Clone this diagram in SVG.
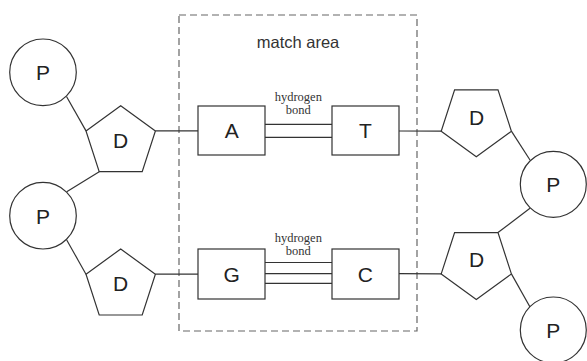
<svg xmlns="http://www.w3.org/2000/svg" width="587" height="361" viewBox="0 0 587 361">
  <style>
    .shape { fill: #ffffff; stroke: #333333; stroke-width: 1.2; }
    .wire { fill: none; stroke: #333333; stroke-width: 1.2; }
    .label { font-family: "Liberation Sans", Arial, sans-serif; font-size: 21px; fill: #222222; text-anchor: middle; }
    .title { font-family: "Liberation Sans", Arial, sans-serif; font-size: 16.5px; fill: #333333; text-anchor: middle; }
    .note { font-family: "Liberation Serif", "Times New Roman", serif; font-size: 12.5px; fill: #333333; text-anchor: middle; }
    .area { fill: none; stroke: #666666; stroke-width: 1.2; stroke-dasharray: 7 4; }
  </style>

  <rect width="587" height="361" fill="#ffffff"/>

  <!-- match area frame -->
  <g id="match-area">
    <rect class="area" x="179" y="15" width="238" height="316"/>
    <text class="title" x="298" y="48">match area</text>
  </g>

  <!-- connectors -->
  <g id="connectors">
    <line class="wire" x1="66.5" y1="96.5" x2="86" y2="130.9"/>
    <line class="wire" x1="99.2" y1="171.7" x2="66.7" y2="191.7"/>
    <line class="wire" x1="66.7" y1="240" x2="86" y2="274.2"/>
    <line class="wire" x1="155.4" y1="130.9" x2="198" y2="130.9"/>
    <line class="wire" x1="155.4" y1="274.2" x2="198" y2="274.2"/>
    <line class="wire" x1="399" y1="131" x2="441.2" y2="131.2"/>
    <line class="wire" x1="511.4" y1="131.2" x2="530" y2="160"/>
    <line class="wire" x1="530" y1="208.3" x2="498" y2="232.6"/>
    <line class="wire" x1="399" y1="273.7" x2="441.2" y2="273.9"/>
    <line class="wire" x1="511.4" y1="273.9" x2="530" y2="307"/>
    <!-- hydrogen bonds A-T (double) -->
    <line class="wire" x1="265" y1="124.3" x2="332" y2="124.3"/>
    <line class="wire" x1="265" y1="137.3" x2="332" y2="137.3"/>
    <text class="note" x="298.3" y="101">hydrogen</text>
    <text class="note" x="298.3" y="114.3">bond</text>
    <!-- hydrogen bonds G-C (triple) -->
    <line class="wire" x1="265" y1="262.5" x2="332" y2="262.5"/>
    <line class="wire" x1="265" y1="273.7" x2="332" y2="273.7"/>
    <line class="wire" x1="265" y1="283.3" x2="332" y2="283.3"/>
    <text class="note" x="298.3" y="241.7">hydrogen</text>
    <text class="note" x="298.3" y="255">bond</text>
  </g>

  <!-- phosphates, left strand -->
  <g id="p-left-1">
    <circle class="shape" cx="43" cy="72.3" r="33.3"/>
    <text class="label" x="43" y="80">P</text>
  </g>
  <g id="p-left-2">
    <circle class="shape" cx="43" cy="215.7" r="33.3"/>
    <text class="label" x="43" y="223.5">P</text>
  </g>

  <!-- sugars, left strand -->
  <g id="d-left-1">
    <polygon class="shape" points="120.7,105.7 155.4,130.9 142.2,171.7 99.2,171.7 86,130.9"/>
    <text class="label" x="120.7" y="147.5">D</text>
  </g>
  <g id="d-left-2">
    <polygon class="shape" points="120.7,249 155.4,274.2 142.2,315 99.2,315 86,274.2"/>
    <text class="label" x="120.7" y="290.5">D</text>
  </g>

  <!-- bases -->
  <g id="base-a">
    <rect class="shape" x="198" y="106" width="67" height="49"/>
    <text class="label" x="231.7" y="138.3">A</text>
  </g>
  <g id="base-t">
    <rect class="shape" x="332" y="106" width="67" height="49"/>
    <text class="label" x="365.3" y="138.3">T</text>
  </g>
  <g id="base-g">
    <rect class="shape" x="198" y="249" width="67" height="50"/>
    <text class="label" x="231.7" y="282">G</text>
  </g>
  <g id="base-c">
    <rect class="shape" x="332" y="249" width="67" height="50"/>
    <text class="label" x="365.3" y="282">C</text>
  </g>

  <!-- sugars, right strand -->
  <g id="d-right-1">
    <polygon class="shape" points="454.6,89.9 498,89.9 511.4,131.2 476.3,156.7 441.2,131.2"/>
    <text class="label" x="476.5" y="125">D</text>
  </g>
  <g id="d-right-2">
    <polygon class="shape" points="454.6,232.6 498,232.6 511.4,273.9 476.3,299.4 441.2,273.9"/>
    <text class="label" x="476.5" y="267">D</text>
  </g>

  <!-- phosphates, right strand -->
  <g id="p-right-1">
    <circle class="shape" cx="553.3" cy="184.3" r="33"/>
    <text class="label" x="553.3" y="192">P</text>
  </g>
  <g id="p-right-2">
    <circle class="shape" cx="553.3" cy="330" r="33"/>
    <text class="label" x="553.3" y="337.5">P</text>
  </g>
</svg>
